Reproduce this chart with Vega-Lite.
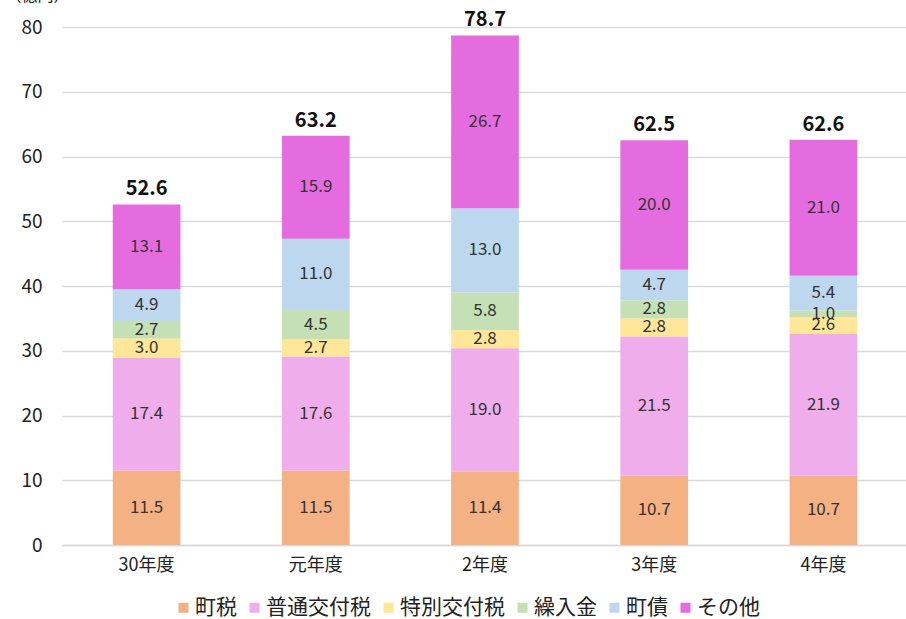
{
  "$schema": "https://vega.github.io/schema/vega-lite/v6.json",
  "width": 846,
  "height": 518,
  "autosize": {"type": "none"},
  "padding": {"left": 62, "top": 27, "right": 0, "bottom": 74},
  "background": "white",
  "config": {
    "font": "Noto Sans CJK JP",
    "view": {"stroke": null},
    "axis": {"labelFont": "Noto Sans CJK JP", "titleFont": "Noto Sans CJK JP"},
    "legend": {"labelFont": "Noto Sans CJK JP"}
  },
  "data": {
    "values": [
      {"year": "30年度", "cat": "町税", "o": 1, "value": 11.5},
      {"year": "30年度", "cat": "普通交付税", "o": 2, "value": 17.4},
      {"year": "30年度", "cat": "特別交付税", "o": 3, "value": 3.0},
      {"year": "30年度", "cat": "繰入金", "o": 4, "value": 2.7},
      {"year": "30年度", "cat": "町債", "o": 5, "value": 4.9},
      {"year": "30年度", "cat": "その他", "o": 6, "value": 13.1},
      {"year": "元年度", "cat": "町税", "o": 1, "value": 11.5},
      {"year": "元年度", "cat": "普通交付税", "o": 2, "value": 17.6},
      {"year": "元年度", "cat": "特別交付税", "o": 3, "value": 2.7},
      {"year": "元年度", "cat": "繰入金", "o": 4, "value": 4.5},
      {"year": "元年度", "cat": "町債", "o": 5, "value": 11.0},
      {"year": "元年度", "cat": "その他", "o": 6, "value": 15.9},
      {"year": "2年度", "cat": "町税", "o": 1, "value": 11.4},
      {"year": "2年度", "cat": "普通交付税", "o": 2, "value": 19.0},
      {"year": "2年度", "cat": "特別交付税", "o": 3, "value": 2.8},
      {"year": "2年度", "cat": "繰入金", "o": 4, "value": 5.8},
      {"year": "2年度", "cat": "町債", "o": 5, "value": 13.0},
      {"year": "2年度", "cat": "その他", "o": 6, "value": 26.7},
      {"year": "3年度", "cat": "町税", "o": 1, "value": 10.7},
      {"year": "3年度", "cat": "普通交付税", "o": 2, "value": 21.5},
      {"year": "3年度", "cat": "特別交付税", "o": 3, "value": 2.8},
      {"year": "3年度", "cat": "繰入金", "o": 4, "value": 2.8},
      {"year": "3年度", "cat": "町債", "o": 5, "value": 4.7},
      {"year": "3年度", "cat": "その他", "o": 6, "value": 20.0},
      {"year": "4年度", "cat": "町税", "o": 1, "value": 10.7},
      {"year": "4年度", "cat": "普通交付税", "o": 2, "value": 21.9},
      {"year": "4年度", "cat": "特別交付税", "o": 3, "value": 2.6},
      {"year": "4年度", "cat": "繰入金", "o": 4, "value": 1.0},
      {"year": "4年度", "cat": "町債", "o": 5, "value": 5.4},
      {"year": "4年度", "cat": "その他", "o": 6, "value": 21.0}
    ]
  },
  "transform": [
    {"stack": "value", "groupby": ["year"], "sort": [{"field": "o", "order": "ascending"}], "as": ["y0", "y1"]},
    {"calculate": "(datum.y0 + datum.y1) / 2", "as": "mid"}
  ],
  "encoding": {
    "x": {
      "field": "year", "type": "nominal",
      "sort": ["30年度", "元年度", "2年度", "3年度", "4年度"],
      "scale": {"paddingInner": 0.6, "paddingOuter": 0.3},
      "axis": {
        "title": null, "labelAngle": 0, "labelFontSize": 18, "labelColor": "#222",
        "domainColor": "#d9d9d9", "domainWidth": 1.5, "ticks": false, "labelPadding": 11
      }
    }
  },
  "layer": [
    {
      "mark": {"type": "bar"},
      "encoding": {
        "y": {
          "field": "y0", "type": "quantitative",
          "scale": {"domain": [0, 80]},
          "axis": {
            "title": "（億円）", "titleAngle": 0, "titleAlign": "left", "titleBaseline": "alphabetic",
            "titleX": -57, "titleY": -27, "titleFontSize": 16, "titleFontWeight": "normal", "titleColor": "#222",
            "values": [0, 10, 20, 30, 40, 50, 60, 70, 80],
            "labelFontSize": 19, "labelColor": "#222", "labelPadding": 20,
            "domain": false, "ticks": false,
            "gridColor": "#d9d9d9", "gridWidth": 1.5
          }
        },
        "y2": {"field": "y1"},
        "color": {
          "field": "cat", "type": "nominal",
          "sort": ["町税", "普通交付税", "特別交付税", "繰入金", "町債", "その他"],
          "scale": {
            "domain": ["町税", "普通交付税", "特別交付税", "繰入金", "町債", "その他"],
            "range": ["#F4B183", "#F0ADEB", "#FFE699", "#C5E0B4", "#BDD7EE", "#E46CDF"]
          },
          "legend": {
            "title": null, "orient": "none", "direction": "horizontal",
            "legendX": 111, "legendY": 570,
            "symbolType": "square", "symbolSize": 100, "symbolStrokeWidth": 0,
            "labelFontSize": 21, "labelColor": "#222", "columnPadding": 7, "labelOffset": 1
          }
        }
      }
    },
    {
      "mark": {"type": "text", "fontSize": 17, "color": "#333"},
      "encoding": {
        "y": {"field": "mid", "type": "quantitative"},
        "text": {"field": "value", "type": "quantitative", "format": ".1f"}
      }
    },
    {
      "mark": {"type": "text", "fontSize": 20, "fontWeight": "bold", "color": "#111", "dy": -15},
      "encoding": {
        "y": {"aggregate": "sum", "field": "value", "type": "quantitative"},
        "text": {"aggregate": "sum", "field": "value", "type": "quantitative", "format": ".1f"}
      }
    }
  ]
}
